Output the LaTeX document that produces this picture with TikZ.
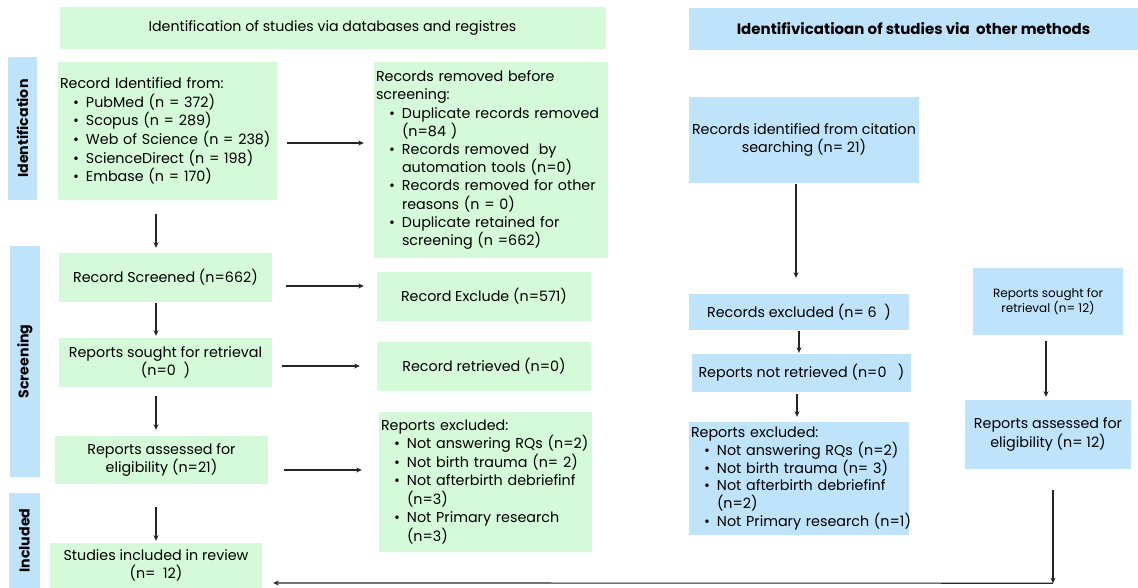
\documentclass[tikz,border=0pt]{standalone}
\usepackage{fontspec}
\setmainfont{Poppins}
\usetikzlibrary{arrows.meta,calc}
\definecolor{gfill}{RGB}{213,250,217}
\definecolor{bfill}{RGB}{190,227,251}
\hyphenpenalty=10000
\exhyphenpenalty=10000
\newcommand{\bul}[1]{\par\hangindent=26pt\hangafter=0\noindent\llap{\textbullet\hspace{7pt}}#1\par}
\newcommand{\firstline}[1]{\noindent #1\par}
\tikzset{
  x=1pt, y=-1pt,
  txt/.style={font=\fontsize{14.3}{18.2}\selectfont},
  gbox/.style={fill=gfill, inner sep=0pt, txt, align=center},
  bbox/.style={fill=bfill, inner sep=0pt, txt, align=center},
  glist/.style={fill=gfill, inner xsep=2pt, inner ysep=0pt, txt, align=left},
  blist/.style={fill=bfill, inner xsep=2pt, inner ysep=0pt, txt, align=left},
  side/.style={fill=bfill, inner sep=0pt, rotate=90, font=\fontsize{14.2}{15}\selectfont\bfseries},
  arr/.style={-{Stealth[length=5.5pt,width=5pt]}, line width=1.15pt, black!85}
}
\begin{document}
\begin{tikzpicture}
\useasboundingbox (0,0) rectangle (1138,588);
% headers
\node[gbox, minimum width=546pt, minimum height=42pt, font=\fontsize{14.2}{16}\selectfont] (hL) at (332.5,28) {Identification of studies via databases and registres};
\node[bbox, minimum width=449pt, minimum height=42pt, font=\fontsize{15}{16}\selectfont\bfseries] (hR) at (913.5,29) {Identifivicatioan of studies via\ \ other methods};
% side labels
\node[side, minimum width=143pt, minimum height=29pt] (sI) at (22.5,128.5) {Identification};
\node[side, minimum width=231pt, minimum height=30pt] (sS) at (25,361.5) {Screening};
\node[side, minimum width=95pt, minimum height=31pt] (sN) at (24.5,540.5) {Included};
% left column
\node[glist, text width=215pt, minimum height=138pt, font=\fontsize{14.3}{18.7}\selectfont] (A) at (167.5,131) {\firstline{\mbox{Record Identified from:}}
\bul{\mbox{PubMed (n = 372)}}
\bul{\mbox{Scopus (n = 289)}}
\bul{\mbox{Web of Science (n = 238)}}
\bul{\mbox{ScienceDirect (n = 198)}}
\bul{\mbox{Embase (n = 170)}}};
\node[glist, text width=230pt, minimum height=196pt] (B) at (491,160) {\firstline{\mbox{Records removed before}\newline screening:}
\bul{\mbox{Duplicate records removed}\newline(n=84 )}
\bul{\mbox{Records removed\ \ by}\newline\mbox{automation tools (n=0)}}
\bul{\mbox{Records removed for other}\newline\mbox{reasons (n = 0)}}
\bul{\mbox{Duplicate retained for}\newline\mbox{screening (n =662)}}};
\node[gbox, minimum width=213pt, minimum height=49pt] (C) at (165.5,277.5) {Record Screened (n=662)};
\node[gbox, minimum width=214pt, minimum height=49pt] (D) at (484,296.5) {Record Exclude (n=571)};
\node[gbox, minimum width=213pt, minimum height=49pt] (E) at (165.5,362.5) {Reports sought for retrieval\\(n=0\ \ )};
\node[gbox, minimum width=214pt, minimum height=49pt] (F) at (484,366.5) {Record retrieved (n=0)};
\node[gbox, minimum width=213pt, minimum height=48pt] (G) at (161.5,460) {Reports assessed for\\eligibility (n=21)};
\node[glist, text width=209pt, minimum height=140pt, font=\fontsize{14.3}{18.5}\selectfont] (H) at (485.5,482) {\firstline{\mbox{Reports excluded:}}
\bul{\mbox{Not answering RQs (n=2)}}
\bul{\mbox{Not birth trauma (n= 2)}}
\bul{\mbox{Not afterbirth debriefinf}\newline(n=3)}
\bul{\mbox{Not Primary research}\newline(n=3)}};
\node[gbox, minimum width=212pt, minimum height=45pt] (I) at (156,565.5) {Studies included in review\\(n=\ \ 12)};
% right column
\node[bbox, minimum width=230pt, minimum height=86pt] (R1) at (804,140) {Records identified from citation\\searching (n= 21)};
\node[bbox, minimum width=220pt, minimum height=36pt] (R2) at (799,312) {Records excluded (n= 6\ \ )};
\node[bbox, minimum width=219pt, minimum height=38pt] (R3) at (801.5,373) {Reports not retrieved (n=0\ \ \ )};
\node[blist, text width=216pt, minimum height=113pt, font=\fontsize{14.3}{17.8}\selectfont] (R4) at (799,478.5) {\firstline{\mbox{Reports excluded:}}
\bul{\mbox{Not answering RQs (n=2)}}
\bul{\mbox{Not birth trauma (n= 3)}}
\bul{\mbox{Not afterbirth debriefinf}\newline(n=2)}
\bul{\mbox{Not Primary research (n=1)}}};
\node[bbox, minimum width=150pt, minimum height=67pt, font=\fontsize{12}{14}\selectfont] (R5) at (1048,301.5) {Reports sought for\\retrieval (n= 12)};
\node[bbox, minimum width=166pt, minimum height=69pt] (R6) at (1048,434.5) {Reports assessed for\\eligibility (n= 12)};
% connectors
\draw[arr] ($(A.east)+(10,12)$) -- ($(B.west)+(-10,-17)$);
\draw[arr] ($(A.south)+(-11.5,14)$) -- ($(C.north)+(-9.5,-5)$);
\draw[arr] ($(C.east)+(14,8.5)$) -- ($(D.west)+(-13,-10.5)$);
\draw[arr] ($(C.south)+(-9.5,1)$) -- ($(E.north)+(-9.5,-2)$);
\draw[arr] ($(E.east)+(10,3.5)$) -- ($(F.west)+(-17,-0.5)$);
\draw[arr] ($(E.south)+(-9.5,9)$) -- ($(G.north)+(-5.5,-6)$);
\draw[arr] ($(G.east)+(16,10)$) -- ($(H.west)+(-17,-12)$);
\draw[arr] ($(G.south)+(-5.5,23)$) -- ($(I.north)+(0,-2)$);
\draw[arr] ($(R1.south)+(-8,1)$) -- ($(R2.north)+(-3,-16)$);
\draw[arr] ($(R2.south)+(0,1)$) -- ($(R3.north)+(-2.5,-1)$);
\draw[arr] ($(R3.south)+(-4.5,2)$) -- ($(R4.north)+(-2,-5)$);
\draw[arr] ($(R5.south)+(-2,6)$) -- ($(R6.north)+(-2,-3)$);
\coordinate (corner) at ($(R6.south)+(5,114)$);
\draw[arr] ($(R6.south)+(5,21)$) -- (corner);
\draw[arr] (corner) -- ($(I.east)+(11,17.5)$);
\end{tikzpicture}
\end{document}
